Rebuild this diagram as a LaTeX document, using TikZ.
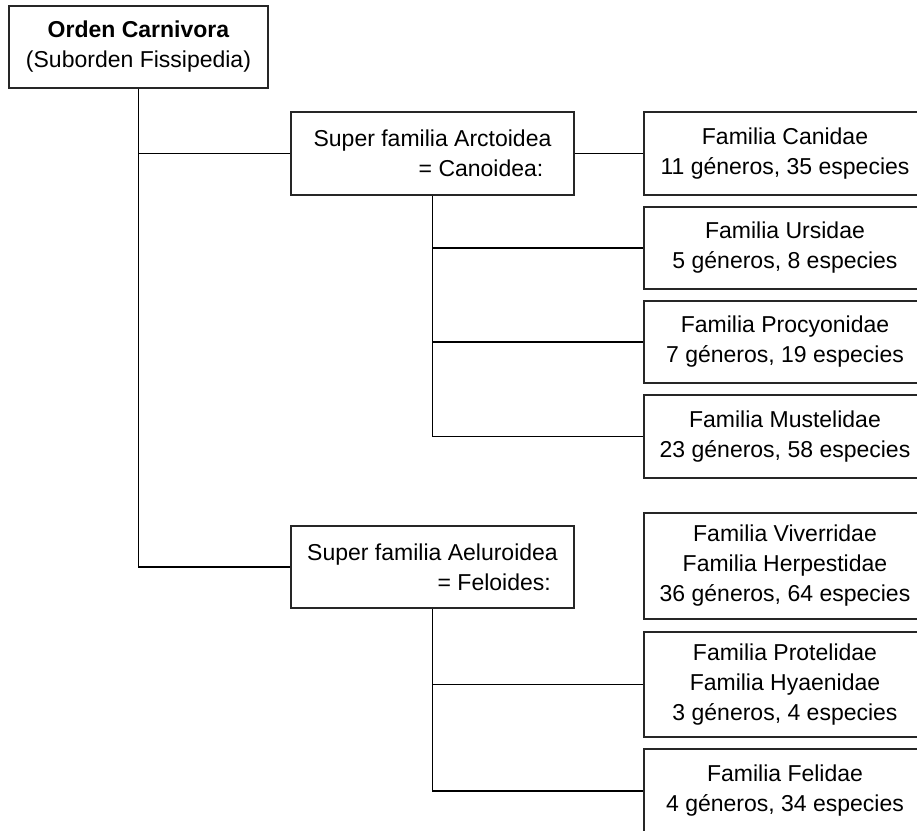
\documentclass[tikz,border=0pt]{standalone}
\usepackage{fontspec}
\setmainfont{Liberation Sans}
\begin{document}
\begin{tikzpicture}[x=1pt,y=-1pt,
  box/.style={draw=black!85,line width=1.3pt,inner sep=0pt,align=center,
    font=\fontsize{23}{30}\selectfont},
  link/.style={draw=black,line width=1.1pt}]
\useasboundingbox (0,0) rectangle (917,830);
\clip (0,0) rectangle (917,830);
\fill[white] (0,0) rectangle (917,830);
% boxes: centre, width, height
\node[box,minimum width=259pt,minimum height=82pt] (top) at (138.5,47) {\textbf{Orden Carnivora}\\(Suborden Fissipedia)};
\node[box,align=right,minimum width=283pt,minimum height=83pt] (arct) at (432.5,153.5) {Super familia Arctoidea\\= Canoidea:\hspace*{8pt}};
\node[box,align=right,minimum width=283pt,minimum height=82pt] (aelu) at (432.5,567) {Super familia Aeluroidea\\= Feloides:\hspace*{7pt}};
\node[box,minimum width=282pt,minimum height=83pt] (cani) at (785,153.5) {Familia Canidae\\11 géneros, 35 especies};
\node[box,minimum width=282pt,minimum height=82pt] (ursi) at (785,248) {Familia Ursidae\\5 géneros, 8 especies};
\node[box,minimum width=282pt,minimum height=82pt] (proc) at (785,342) {Familia Procyonidae\\7 géneros, 19 especies};
\node[box,minimum width=282pt,minimum height=83pt] (must) at (785,436.5) {Familia Mustelidae\\23 géneros, 58 especies};
\node[box,minimum width=282pt,minimum height=106pt] (vive) at (785,566) {Familia Viverridae\\Familia Herpestidae\\36 géneros, 64 especies};
\node[box,minimum width=282pt,minimum height=105pt] (prot) at (785,684.5) {Familia Protelidae\\Familia Hyaenidae\\3 géneros, 4 especies};
\node[box,minimum width=282pt,minimum height=84pt] (feli) at (785,791) {Familia Felidae\\4 géneros, 34 especies};
% connectors
\draw[link] (top.south) |- (aelu.west);
\draw[link] (top.south |- arct.west) -- (arct.west);
\draw[link] (arct.east) -- (cani.west);
\draw[link] (arct.south) |- (must.west);
\draw[link] (arct.south |- ursi.west) -- (ursi.west);
\draw[link] (arct.south |- proc.west) -- (proc.west);
\draw[link] (aelu.south) |- (feli.west);
\draw[link] (aelu.south |- prot.west) -- (prot.west);
\end{tikzpicture}
\end{document}
